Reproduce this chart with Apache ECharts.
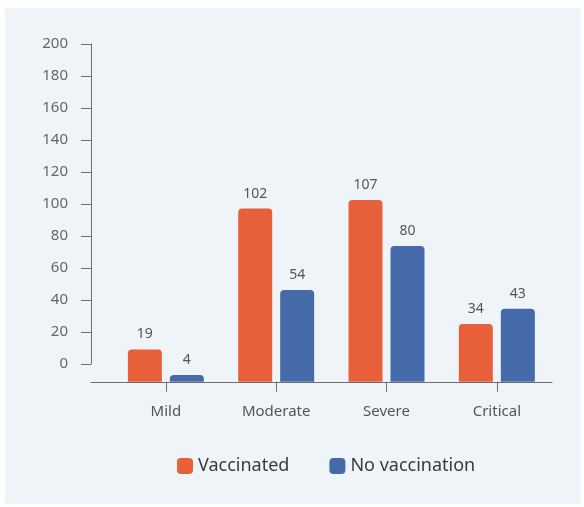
<!DOCTYPE html>
<html>
<head>
<meta charset="utf-8">
<title>Vaccination</title>
<script src="https://cdn.jsdelivr.net/npm/echarts@6/dist/echarts.min.js"></script>
<style>
  html, body { margin: 0; padding: 0; background: #ffffff; }
  #panel { position: absolute; left: 5px; top: 8px; width: 576px; height: 496px; background: #eff4f8; }
  #container { position: absolute; left: 0; top: 0; width: 584px; height: 507px; }
</style>
</head>
<body>
<div id="panel"></div>
<div id="container"></div>
<script type="text/javascript">
    var categories = ['Mild', 'Moderate', 'Severe', 'Critical'];
    var vaccinated = [19, 102, 107, 34];
    var noVaccination = [4, 54, 80, 43];
    var yTicks = [0, 20, 40, 60, 80, 100, 120, 140, 160, 180, 200];

    var font = 'Noto Sans';
    var myChart = echarts.init(document.getElementById('container'));

    var option = {
        textStyle: { fontFamily: font },
        legend: {
            left: 177,
            top: 457,
            padding: 0,
            itemWidth: 16,
            itemHeight: 16,
            itemGap: 40,
            icon: 'roundRect',
            textStyle: { fontFamily: font, fontSize: 18, color: '#3a3a3a' },
            data: ['Vaccinated', 'No vaccination']
        },
        grid: [
            // bars
            { left: 110.7, right: 32, top: 44, bottom: 125.3 },
            // axis frame
            { left: 91, right: 32, top: 44, bottom: 143 }
        ],
        xAxis: [
            {
                type: 'category',
                gridIndex: 0,
                data: categories,
                axisLine: { show: false },
                axisTick: { show: true, alignWithLabel: true, length: 10, lineStyle: { color: '#6e6e6e' } },
                axisLabel: { margin: 23, fontSize: 15, color: '#555555', fontFamily: font }
            },
            {
                type: 'value',
                gridIndex: 1,
                offset: 18,
                min: 0,
                max: 1,
                axisLine: { show: true, onZero: false, lineStyle: { color: '#6e6e6e', width: 1 } },
                axisTick: { show: false },
                axisLabel: { show: false },
                splitLine: { show: false }
            }
        ],
        yAxis: [
            {
                type: 'value',
                gridIndex: 0,
                min: 0,
                max: 199,
                show: false
            },
            {
                type: 'value',
                gridIndex: 1,
                min: 0,
                max: 200,
                interval: 20,
                axisLine: { show: true, onZero: false, lineStyle: { color: '#6e6e6e', width: 1 } },
                axisTick: { show: true, length: 10, lineStyle: { color: '#6e6e6e' } },
                axisLabel: { margin: 23, fontSize: 15, color: '#666666', fontFamily: font, customValues: yTicks },
                splitLine: { show: false }
            }
        ],
        series: [
            {
                name: 'Vaccinated',
                type: 'bar',
                xAxisIndex: 0,
                yAxisIndex: 0,
                data: vaccinated,
                barWidth: 34,
                barGap: '23.5%',
                itemStyle: { color: '#e8603a', borderRadius: [4, 4, 0, 0] },
                label: { show: true, position: 'top', distance: 8, fontSize: 14, color: '#555555', fontFamily: font }
            },
            {
                name: 'No vaccination',
                type: 'bar',
                xAxisIndex: 0,
                yAxisIndex: 0,
                data: noVaccination,
                barWidth: 34,
                barGap: '23.5%',
                itemStyle: { color: '#446aa9', borderRadius: [4, 4, 0, 0] },
                label: { show: true, position: 'top', distance: 8, fontSize: 14, color: '#555555', fontFamily: font }
            }
        ]
    };

    myChart.setOption(option);
</script>
</body>
</html>
